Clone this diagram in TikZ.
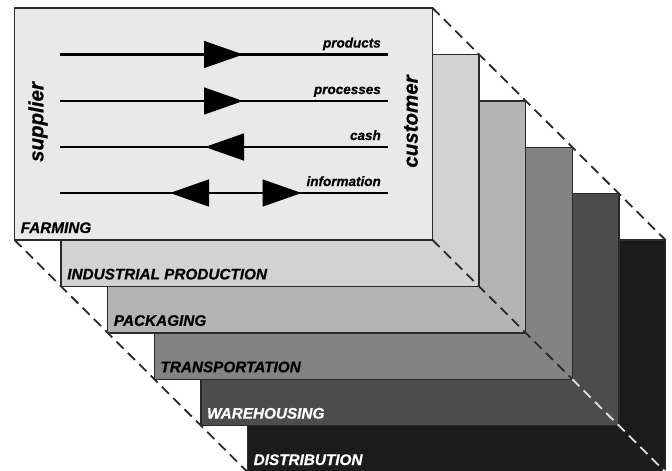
\documentclass[tikz,border=0pt]{standalone}
\usepackage{fontspec}
\setmainfont{Liberation Sans}
\newfontfamily\heavy[FakeBold=0.7]{Liberation Sans Bold Italic}
\definecolor{p0}{HTML}{E9E9E9}
\definecolor{p1}{HTML}{D2D2D2}
\definecolor{p2}{HTML}{B4B4B4}
\definecolor{p3}{HTML}{838383}
\definecolor{p4}{HTML}{4C4C4C}
\definecolor{p5}{HTML}{1B1B1B}
\definecolor{edge}{HTML}{2A2A2A}
\begin{document}
\begin{tikzpicture}[x=1pt,y=-1pt,
  panel/.style={draw=edge,line width=1.4pt,minimum width=418pt,minimum height=232pt,
    anchor=north west,inner sep=0pt,outer sep=0pt},
  tag/.style={font=\fontsize{15.3}{15.3}\selectfont\heavy,anchor=base west,inner sep=0pt},
  flowlbl/.style={font=\fontsize{13.5}{13.5}\selectfont\heavy,anchor=base east,inner sep=0pt},
  flowline/.style={line width=2.3pt},
  party/.style={font=\fontsize{20.5}{20.5}\selectfont\heavy,rotate=90,inner sep=0pt},
  guide/.style={line width=1.8pt,dash pattern=on 10pt off 6pt},
  tri/.pic={\fill (0,0) -- (-39,-13.7) -- (-39,13.7) -- cycle;}
]
\useasboundingbox (0,0) rectangle (672,471);
% panels, back to front
\foreach \i/\c/\t/\tc in {5/p5/DISTRIBUTION/white,4/p4/WAREHOUSING/white,3/p3/TRANSPORTATION/black,2/p2/PACKAGING/black,1/p1/INDUSTRIAL PRODUCTION/black,0/p0/FARMING/black}{
  \node[panel,fill=\c] (panel\i) at (14.5+46.6*\i,8+46.4*\i) {};
  \node[tag,text=\tc] (tag\i) at ([xshift=6pt,yshift=7pt]panel\i.south west) {\t};
}
% dashed guide lines
\draw[guide,draw=edge] (panel0.north east) -- (panel5.north east);
\draw[guide,draw=edge] (panel0.south west) -- (panel5.south west);
\draw[guide,draw=edge] (panel0.south east) -- (panel3.south east);
\draw[guide,draw=black!12] (panel3.south east) -- (panel5.south east);
% flows
\coordinate (a1) at (60,54.5);  \coordinate (b1) at (388,54.5);
\coordinate (a2) at (60,101);   \coordinate (b2) at (388,101);
\coordinate (a3) at (60,147);   \coordinate (b3) at (388,147);
\coordinate (a4) at (60,193);   \coordinate (b4) at (388,193);
\draw[flowline] (a1) -- (b1);
\draw[flowline] (a2) -- (b2);
\draw[flowline] (a3) -- (b3);
\draw[flowline] (a4) -- (b4);
\pic at (243,54.5) {tri};
\pic at (243,101) {tri};
\pic[xscale=-1] at (205,147) {tri};
\pic[xscale=-1] at (170,193) {tri};
\pic at (301.5,193) {tri};
\node[flowlbl] (l1) at (381,47.5) {products};
\node[flowlbl] (l2) at (381,94) {processes};
\node[flowlbl] (l3) at (381,140) {cash};
\node[flowlbl] (l4) at (381,186) {information};
\node[party] (sup) at (38,122) {supplier};
\node[party] (cus) at (411,121.5) {customer};
\end{tikzpicture}
\end{document}
